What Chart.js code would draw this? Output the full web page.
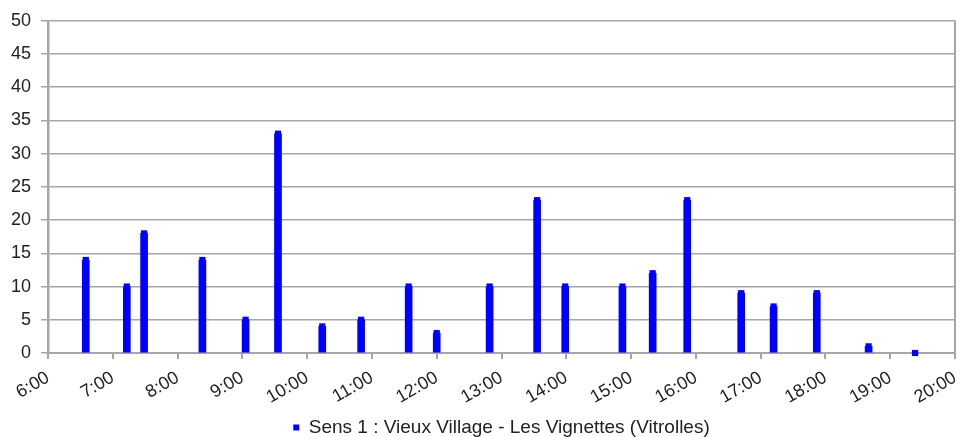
<!DOCTYPE html>
<html>
<head>
<meta charset="utf-8">
<script src="https://cdn.jsdelivr.net/npm/chart.js@4"></script>
<style>
  html, body { margin: 0; padding: 0; background: #fff; }
  #wrap { width: 961px; height: 437px; }
</style>
</head>
<body>
<div id="wrap"><canvas id="micanvas" width="961" height="437"></canvas></div>
<script>
// heures de passage et nombre de véhicules
let heures = ["6:35", "7:13", "7:29", "8:23", "9:03", "9:33", "10:14", "10:50", "11:34", "12:00", "12:49",
  "13:33", "13:59", "14:52", "15:20", "15:52", "16:42", "17:12", "17:52", "18:40", "19:23"]
let passages = [14, 10, 18, 14, 5, 33, 4, 5, 10, 3, 10, 23, 10, 10, 12, 23, 9, 7, 9, 1, 0]
let etiquette = "Sens 1 : Vieux Village - Les Vignettes (Vitrolles)"

function enHeures(h) {
  let p = h.split(":")
  return Number(p[0]) + Number(p[1]) / 60
}

let points = heures.map((h, i) => ({ x: enHeures(h), y: passages[i] }))

let gris = '#a6a6a6'
let police = { family: "'Liberation Sans', Arial, sans-serif", size: 18 }

let contexto = document.getElementById('micanvas').getContext('2d')
let opciones = {
  type: 'bar',
  data: {
    datasets: [{
      label: etiquette,
      data: points,
      backgroundColor: '#0000ff',
      borderWidth: 0,
      barThickness: 7,
      order: 2
    }, {
      type: 'line',
      label: 'cap',
      data: points,
      showLine: false,
      clip: false,
      pointStyle: 'rect',
      pointRadius: 4.4,
      pointBorderWidth: 0,
      pointBackgroundColor: '#0000ff',
      order: 1
    }]
  },
  options: {
    responsive: false,
    animation: false,
    layout: { padding: { top: 19, right: 6, left: 0, bottom: -10 } },
    scales: {
      x: {
        type: 'linear',
        min: 6,
        max: 20,
        offset: false,
        afterFit: s => { s.height = 63; s.paddingRight = 0 },
        ticks: {
          stepSize: 1,
          autoSkip: false,
          minRotation: 30,
          maxRotation: 30,
          padding: 8,
          color: '#222',
          font: police,
          callback: v => v + ':00'
        },
        grid: {
          offset: false,
          drawOnChartArea: true,
          color: c => c.index === 14 ? gris : 'rgba(0,0,0,0)',
          tickColor: gris,
          tickLength: 6,
          lineWidth: 2
        },
        border: { color: gris, width: 2 }
      },
      y: {
        min: 0,
        max: 50,
        afterFit: s => { s.width = 48 },
        ticks: { stepSize: 5, padding: 10, color: '#222', font: police },
        grid: { color: gris, lineWidth: 1.5, tickLength: 7, tickColor: gris },
        border: { color: gris, width: 2.5 }
      }
    },
    plugins: {
      legend: {
        position: 'bottom',
        fullSize: false,
        labels: {
          boxWidth: 6,
          boxHeight: 6,
          padding: 2,
          color: '#222',
          font: { family: police.family, size: 19 },
          filter: item => item.datasetIndex === 0
        }
      },
      tooltip: { enabled: false }
    }
  }
}

let grafica = new Chart(contexto, opciones)
</script>
</body>
</html>
